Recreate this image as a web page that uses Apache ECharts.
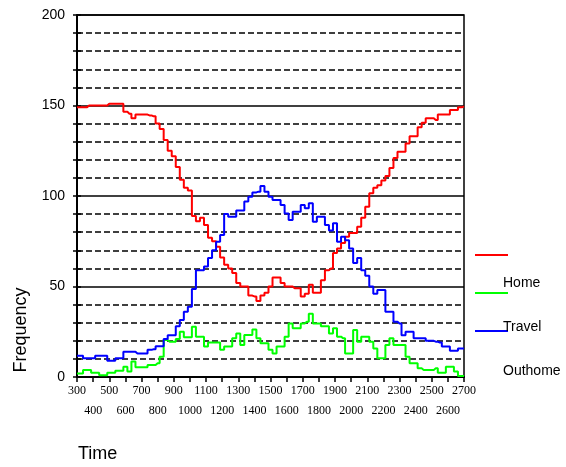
<!DOCTYPE html>
<html>
<head>
    <meta charset="utf-8">
    <title>Frequency</title>
    <script src="https://cdn.jsdelivr.net/npm/echarts@6/dist/echarts.min.js"></script>
    <style>
        body { margin: 0; background: #fff; }
    </style>
</head>
<body>
<div id="main" style="width: 566px;height:467px;"></div>
<script type="text/javascript">

var times = [300, 325, 350, 375, 400, 425, 450, 475, 500, 525, 550, 575,
    600, 625, 650, 675, 700, 725, 750, 775, 800, 825, 850, 875,
    900, 925, 950, 975, 1000, 1025, 1050, 1075, 1100, 1125, 1150, 1175,
    1200, 1225, 1250, 1275, 1300, 1325, 1350, 1375, 1400, 1425, 1450, 1475,
    1500, 1525, 1550, 1575, 1600, 1625, 1650, 1675, 1700, 1725, 1750, 1775,
    1800, 1825, 1850, 1875, 1900, 1925, 1950, 1975, 2000, 2025, 2050, 2075,
    2100, 2125, 2150, 2175, 2200, 2225, 2250, 2275, 2300, 2325, 2350, 2375,
    2400, 2425, 2450, 2475, 2500, 2525, 2550, 2575, 2600, 2625, 2650, 2675, 2700];

var home = [149, 149, 149, 150, 150, 150, 150, 150, 151, 151, 151, 151,
    146.5, 145.5, 143, 145, 145, 145, 144.5, 144, 140, 137, 131, 125,
    122, 116, 109, 104.5, 103, 89, 86, 88, 84, 77, 75, 72,
    66, 62, 60, 57.5, 52, 50, 50, 45, 44.5, 42, 45, 46.5,
    50, 55, 55, 52, 50, 50, 49, 49, 44.5, 46, 51, 46.5,
    46.5, 53.5, 59, 60, 68.5, 71, 74, 77.5, 79.5, 79.5, 83, 88,
    94, 101.5, 104.5, 106, 108.5, 111, 115.5, 121, 124.5, 124.5, 129, 133,
    133, 138, 140.5, 143, 143, 142, 145, 145, 145, 147.5, 147.5, 149, 149.5];

var travel = [2, 2, 3.9, 3.9, 2.3, 2.3, 1, 1, 2.3, 2.3, 3.5, 3.5,
    5.7, 3, 8.5, 5.4, 5.4, 5.4, 6.6, 6.6, 7.6, 11.2, 20.4, 19.5,
    19.5, 21, 25, 22, 22, 27.8, 22.3, 22.3, 16.8, 19, 19, 19,
    15, 16.8, 16.8, 21.4, 24, 17.7, 23.2, 23.2, 26.3, 21.4, 18.7, 18.7,
    15, 13, 16.8, 16.8, 22.3, 29.6, 27, 27, 29.6, 30.5, 35, 29.6,
    29.6, 28, 28, 24, 27, 22.3, 21.4, 13, 13, 26, 19.5, 22.3,
    22.3, 19.5, 15.8, 10.3, 10.3, 17.7, 21.4, 17.7, 17.7, 17.7, 11.2, 7.6,
    7.6, 4.8, 3.9, 3.9, 3.9, 4.8, 2.3, 2.3, 5.7, 5.7, 3, 0.5, 0.5];

var outhome = [11.8, 11.8, 10.3, 10.3, 10.3, 11.8, 11.8, 11.8, 9, 9, 10.3, 10.3,
    14, 14, 14, 13, 13, 13, 15, 15.3, 17, 17, 21, 23,
    23, 28, 31.5, 36, 38.8, 48.6, 59, 59, 61, 65.7, 70, 74.7,
    78.5, 90, 88.6, 88.6, 92, 92, 97, 99.6, 102, 102.4, 105.5, 102.4,
    99.6, 97.8, 97.8, 95, 90.4, 86.7, 91.3, 91.3, 95, 93.2, 96, 85.8,
    88.6, 88.6, 84, 81, 85, 74.7, 77.5, 75.5, 71, 63, 65.7, 59,
    56, 50, 46, 48, 48, 36, 36, 30.5, 29.5, 23, 25, 25,
    21.4, 21.4, 21.4, 20, 20, 19.5, 19, 16.8, 16.8, 14.5, 14.5, 15.7, 15.7];

var seriesNames = ['Home', 'Travel', 'Outhome'];
var seriesColors = ['#ff0000', '#00ff00', '#0000ff'];

function pairs(values) {
    var out = [];
    for (var i = 0; i < times.length; i++) {
        out.push([times[i], values[i]]);
    }
    return out;
}

function makeSeries(name, values, color) {
    return {
        name: name,
        type: 'line',
        step: 'middle',
        symbol: 'none',
        data: pairs(values),
        lineStyle: { color: color, width: 2 },
        itemStyle: { color: color }
    };
}

var timeLabelStyle = {
    color: '#000', fontFamily: 'Liberation Serif', fontSize: 12,
    lineHeight: 20, margin: 4,
    showMinLabel: true, showMaxLabel: true, hideOverlap: false
};

var option = {
    animation: false,
    backgroundColor: '#fff',
    grid: {
        left: 77, right: 102, top: 15, bottom: 90,
        show: true, borderColor: '#000', borderWidth: 1.5
    },
    // the old chart draws each key line above its name, so lines and names are two legends
    legend: [{
        orient: 'vertical',
        left: 475,
        top: 248,
        padding: 0,
        itemWidth: 33,
        itemHeight: 14,
        itemGap: 30,
        icon: 'path://M0,0h33v2h-33z',
        formatter: function () { return ''; },
        textStyle: { fontSize: 14 },
        data: seriesNames
    }, {
        orient: 'vertical',
        left: 497,
        top: 276,
        padding: 0,
        itemWidth: 1,
        itemHeight: 14,
        itemGap: 30,
        icon: 'rect',
        itemStyle: { opacity: 0 },
        textStyle: { fontFamily: 'Liberation Sans', fontSize: 14, color: '#000' },
        data: seriesNames
    }],
    xAxis: [{
        // first row: odd hundreds
        type: 'value',
        min: 300, max: 2700, interval: 100,
        axisLine: { lineStyle: { color: '#000', width: 2 } },
        axisTick: { length: 5, lineStyle: { color: '#000', width: 1.5 } },
        splitLine: { show: false },
        axisLabel: Object.assign({
            formatter: function (v) { return (v / 100) % 2 === 1 ? String(v) : ''; }
        }, timeLabelStyle)
    }, {
        // second row: even hundreds
        type: 'value',
        position: 'bottom',
        offset: 20,
        min: 300, max: 2700, interval: 100,
        axisLine: { show: false },
        axisTick: { show: false },
        splitLine: { show: false },
        axisLabel: Object.assign({
            formatter: function (v) { return (v / 100) % 2 === 0 ? String(v) : ''; }
        }, timeLabelStyle)
    }],
    yAxis: [{
        type: 'value',
        min: 0, max: 200, interval: 50,
        axisLine: { show: true, lineStyle: { color: '#000', width: 2 } },
        axisTick: { show: true, length: 4, lineStyle: { color: '#000', width: 1.5 } },
        minorTick: { show: true, splitNumber: 5, length: 4, lineStyle: { color: '#000', width: 1.5 } },
        splitLine: { lineStyle: { color: '#000', width: 1.5 } },
        minorSplitLine: { show: true, lineStyle: { color: '#000', width: 1.5, type: [6, 3] } },
        axisLabel: { color: '#000', fontFamily: 'Liberation Sans', fontSize: 14, margin: 12 }
    }, {
        // inner half of the ticks that cross the left axis
        type: 'value',
        position: 'left',
        min: 0, max: 200, interval: 50,
        axisLine: { show: false },
        axisTick: { show: true, inside: true, length: 4, lineStyle: { color: '#000', width: 1.5 } },
        minorTick: { show: true, splitNumber: 5, length: 4, lineStyle: { color: '#000', width: 1.5 } },
        splitLine: { show: false },
        axisLabel: { show: false }
    }],
    graphic: [{
        type: 'text',
        x: 21, y: 330,
        rotation: Math.PI / 2,
        style: {
            text: 'Frequency', font: '18px "Liberation Sans"', fill: '#000',
            align: 'center', verticalAlign: 'middle'
        }
    }, {
        type: 'text',
        x: 78, y: 454,
        style: {
            text: 'Time', font: '18px "Liberation Sans"', fill: '#000',
            align: 'left', verticalAlign: 'middle'
        }
    }],
    series: [
        makeSeries(seriesNames[0], home, seriesColors[0]),
        makeSeries(seriesNames[1], travel, seriesColors[1]),
        makeSeries(seriesNames[2], outhome, seriesColors[2])
    ]
};

var myChart = echarts.init(document.getElementById('main'));
myChart.setOption(option);

</script>
</body>
</html>
